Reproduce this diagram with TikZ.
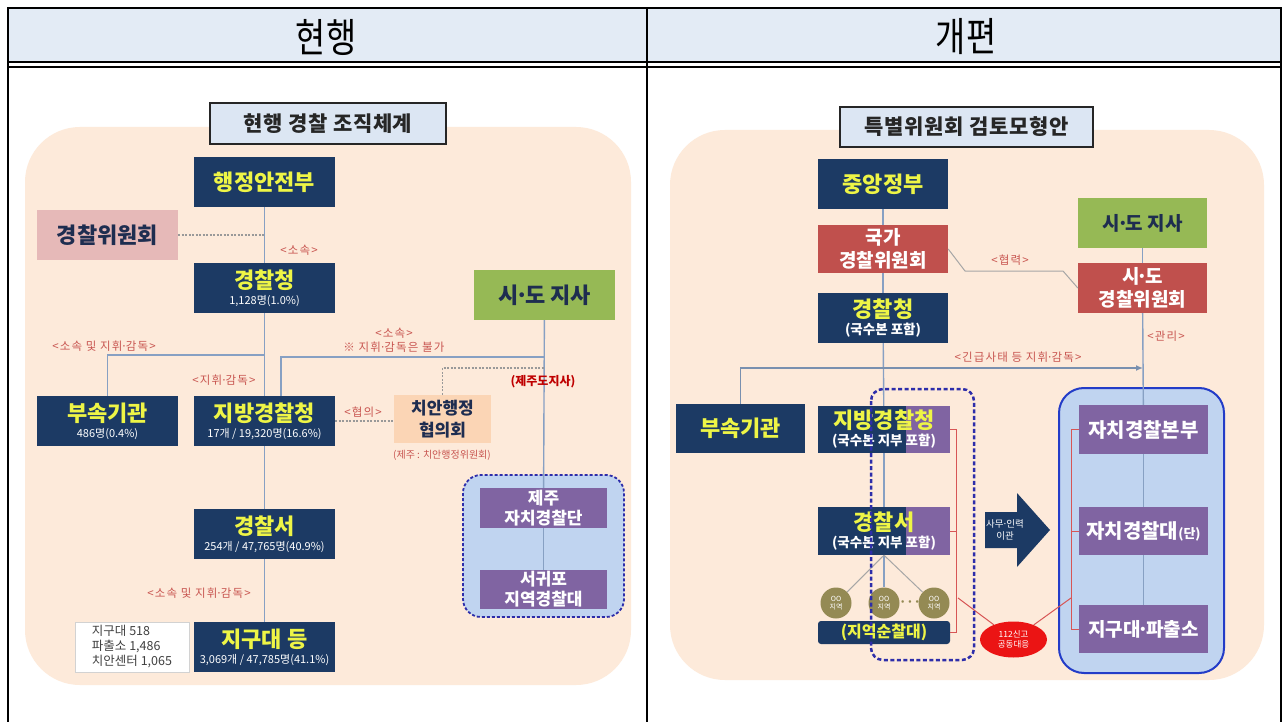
\documentclass[tikz,border=0pt]{standalone}
\usepackage{fontspec}
\setmainfont{Noto Sans CJK KR}
\usetikzlibrary{arrows.meta,shapes.geometric}
\definecolor{navy}{RGB}{28,58,100}
\definecolor{ylw}{RGB}{238,245,70}
\definecolor{pinkb}{RGB}{230,185,184}
\definecolor{greenb}{RGB}{150,185,85}
\definecolor{purp}{RGB}{128,100,162}
\definecolor{redb}{RGB}{192,80,77}
\definecolor{peach}{RGB}{253,234,218}
\definecolor{lblue}{RGB}{192,212,240}
\definecolor{dblue}{RGB}{45,45,170}
\definecolor{sblue}{RGB}{35,60,200}
\definecolor{conncol}{RGB}{135,160,195}
\definecolor{lblred}{RGB}{200,85,80}
\definecolor{hdr}{RGB}{227,235,245}
\definecolor{ttlfill}{RGB}{220,230,243}
\definecolor{chianf}{RGB}{251,213,181}
\definecolor{olive}{RGB}{148,138,84}
\definecolor{txtdark}{RGB}{30,45,80}
\definecolor{redline}{RGB}{215,85,85}
\definecolor{ellred}{RGB}{235,20,20}
\newcommand\kbig[1]{{\fontsize{22}{26}\selectfont\bfseries #1}}
\newcommand\kmid[1]{{\fontsize{19}{23}\selectfont\bfseries #1}}
\newcommand\knum[1]{{\fontsize{11}{13}\selectfont\color{white}#1}}
\newcommand\mdot{\hbox to 0.3em{\hss·\hss}}
\tikzset{
  boxbase/.style={inner sep=0pt, align=center, font=\fontsize{12}{15}\selectfont},
  navybox/.style={boxbase, fill=navy, text=ylw},
  pinkbox/.style={boxbase, fill=pinkb, text=txtdark},
  greenbox/.style={boxbase, fill=greenb, text=txtdark},
  purpbox/.style={boxbase, fill=purp, text=white},
  redbox/.style={boxbase, fill=redb, text=white},
  conn/.style={draw=conncol, line width=1.4pt},
  dconn/.style={draw=gray!80, line width=1.1pt, dash pattern=on 2pt off 1.5pt},
  grayl/.style={draw=gray!70, line width=1pt},
  redl/.style={draw=redline, line width=1pt},
  lbl/.style={text=lblred, font=\fontsize{11.5}{14}\selectfont\addfontfeature{LetterSpace=10}, inner sep=1pt, align=center},
  ttl/.style={draw=gray!30!black, line width=1.5pt, fill=ttlfill, inner sep=0pt, font=\fontsize{21}{24}\selectfont\bfseries\addfontfeature{LetterSpace=3}, text=black!85},
}
\begin{document}
\begin{tikzpicture}[x=1pt,y=-1pt]
\useasboundingbox (0,0) rectangle (1288,722);
\fill[white] (0,0) rectangle (1288,722);
% header table
\fill[hdr] (8,8) rectangle (1281,62);
\draw[line width=2pt] (8,62) -- (1281,62);
\draw[line width=2pt] (8,67) -- (1281,67);
\draw[line width=1.5pt] (647,8) -- (647,740);
\draw[line width=2.5pt] (8,8) rectangle (1281,740);
\node (h1) at (326,37) {\scalebox{0.82}[1]{\fontsize{40}{42}\selectfont 현행}};
\node (h2) at (966,37) {\scalebox{0.82}[1]{\fontsize{40}{42}\selectfont 개편}};

% ================= LEFT PANEL =================
\fill[peach, rounded corners=55pt] (25,127) rectangle (631,685);
\node[ttl, minimum width=236pt, minimum height=41pt] (t1) at (328,123.5) {현행 경찰 조직체계};

% jeju region
\draw[dblue, fill=lblue, line width=1.8pt, dash pattern=on 3pt off 2pt, rounded corners=18pt] (463,475) rectangle (624,617);

% boxes
\node[navybox, minimum width=141pt, minimum height=50pt] (hang) at (264.5,182) {\kbig{행정안전부}};
\node[pinkbox, minimum width=141pt, minimum height=50pt] (gwi) at (107.5,235) {\kbig{경찰위원회}};
\node[navybox, minimum width=141pt, minimum height=50pt] (cheong) at (264.5,288) {\kbig{경찰청}\\[1pt]\knum{1,128명(1.0\%)}};
\node[greenbox, minimum width=141pt, minimum height=50pt] (sido) at (544.5,295) {\kbig{시\mdot 도 지사}};
\node[navybox, minimum width=141pt, minimum height=50pt] (busok) at (107.5,421) {\kbig{부속기관}\\[1pt]\knum{486명(0.4\%)}};
\node[navybox, minimum width=141pt, minimum height=50pt] (jibang) at (264.5,421) {\kbig{지방경찰청}\\[1pt]\knum{17개 / 19,320명(16.6\%)}};
\node[boxbase, fill=chianf, text=txtdark, minimum width=97pt, minimum height=48pt, font=\fontsize{17}{22}\selectfont\bfseries] (chian) at (442.5,419) {치안행정\\협의회};
\node[purpbox, minimum width=127pt, minimum height=40pt, font=\fontsize{17}{20}\selectfont\bfseries] (jeju) at (543.5,508) {제주\\자치경찰단};
\node[purpbox, minimum width=127pt, minimum height=39pt, font=\fontsize{17}{20}\selectfont\bfseries] (sgp) at (543.5,589.5) {서귀포\\지역경찰대};
\node[navybox, minimum width=141pt, minimum height=50pt] (seo) at (264.5,534) {\kbig{경찰서}\\[1pt]\knum{254개 / 47,765명(40.9\%)}};
\node[navybox, minimum width=141pt, minimum height=50pt] (jigu) at (264.5,647) {\kbig{지구대 등}\\[1pt]\knum{3,069개 / 47,785명(41.1\%)}};
\node[draw=gray!35, fill=white, line width=1pt, minimum width=114pt, minimum height=50pt, inner sep=0pt, align=left, text=black!75, font=\fontsize{12.5}{15}\selectfont] (info) at (132,647) {지구대 518\\파출소 1,486\\치안센터 1,065};

% connectors left
\coordinate (j1) at (264.5,355);
\coordinate (j2) at (543.5,357);
\coordinate (j3) at (543.5,368);
\draw[conn] (hang) -- (cheong);
\draw[conn] (cheong) -- (jibang);
\draw[conn] (jibang) -- (seo);
\draw[conn] (seo) -- (jigu);
\draw[conn] (busok.north) |- (j1);
\draw[conn] (sido) -- (jeju);
\draw[conn] (jeju) -- (sgp);
\draw[conn] (j2) -| ([xshift=16.5pt]jibang.north);
\draw[dconn] (gwi.east) -- (gwi.east -| hang.south);
\draw[dconn] (chian.north) |- (j3);
\draw[dconn] (jibang.east) -- (jibang.east -| chian.west);

% labels left
\node[lbl] (l1) at (299,250) {<소속>};
\node[lbl] (l2) at (104,346) {<소속 및 지휘\mdot 감독>};
\node[lbl] (l3) at (394,340) {<소속>\\※ 지휘\mdot 감독은 불가};
\node[lbl] (l4) at (224,380) {<지휘\mdot 감독>};
\node[text=red!75!black, font=\fontsize{12}{14}\selectfont\bfseries] (l5) at (543,382) {(제주도지사)};
\node[lbl] (l6) at (363,412) {<협의>};
\node[lbl, font=\fontsize{10}{12}\selectfont] (l7) at (442,455) {(제주 : 치안행정위원회)};
\node[lbl] (l8) at (199,593) {<소속 및 지휘\mdot 감독>};

% ================= RIGHT PANEL =================
\fill[peach, rounded corners=55pt] (670,130) rectangle (1264,680);
\node[ttl, minimum width=253pt, minimum height=40pt] (t2) at (966.5,127) {특별위원회 검토모형안};

\draw[sblue, fill=lblue, line width=2pt, rounded corners=25pt] (1059,388) rectangle (1224,673);

\node[navybox, minimum width=130pt, minimum height=50pt] (jung) at (883,184) {\kbig{중앙정부}};
\node[redbox, minimum width=130pt, minimum height=48pt, font=\fontsize{19}{23}\selectfont\bfseries] (gukga) at (883,249) {국가\\경찰위원회};
\node[navybox, minimum width=130pt, minimum height=50pt] (cheong2) at (883,318) {\kbig{경찰청}\\[2pt]{\fontsize{13.5}{15}\selectfont\bfseries\color{white}(국수본 포함)}};
\node[greenbox, minimum width=129pt, minimum height=50pt] (sido2) at (1142.5,223) {\kmid{시\mdot 도 지사}};
\node[redbox, minimum width=129pt, minimum height=50pt, font=\fontsize{19}{23}\selectfont\bfseries] (sidowi) at (1142.5,288) {시\mdot 도\\경찰위원회};
\node[navybox, minimum width=129pt, minimum height=49pt] (busok2) at (740.5,428.5) {\kbig{부속기관}};
\node[navybox, minimum width=132pt, minimum height=47pt,
  path picture={\fill[purp] ([xshift=22pt]path picture bounding box.south) rectangle (path picture bounding box.north east);}]
  (jibang2) at (884,429.5) {\kbig{지방경찰청}\\[2pt]{\fontsize{13.5}{15}\selectfont\bfseries\color{white}(국수본 지부 포함)}};
\node[navybox, minimum width=132pt, minimum height=48pt,
  path picture={\fill[purp] ([xshift=22pt]path picture bounding box.south) rectangle (path picture bounding box.north east);}]
  (seo2) at (884,531) {\kbig{경찰서}\\[2pt]{\fontsize{13.5}{15}\selectfont\bfseries\color{white}(국수본 지부 포함)}};
\node[circle, fill=olive, minimum size=31pt, inner sep=0pt, text=white, align=center, font=\fontsize{7}{8}\selectfont] (c1) at (836,603) {OO\\지역};
\node[circle, fill=olive, minimum size=31pt, inner sep=0pt, text=white, align=center, font=\fontsize{7}{8}\selectfont] (c2) at (884,603) {OO\\지역};
\node[circle, fill=olive, minimum size=31pt, inner sep=0pt, text=white, align=center, font=\fontsize{7}{8}\selectfont] (c3) at (934,603) {OO\\지역};
\node[text=olive, font=\fontsize{12}{12}\selectfont\bfseries, inner sep=0pt] (dots) at (910,604) {···};
\node[navybox, rounded corners=3pt, minimum width=132pt, minimum height=23pt, font=\fontsize{16}{18}\selectfont\bfseries] (sunchal) at (884,632.5) {(지역순찰대)};

\node[purpbox, minimum width=129pt, minimum height=49pt, font=\fontsize{20}{24}\selectfont\bfseries] (ja1) at (1143.5,429.5) {자치경찰본부};
\node[purpbox, minimum width=129pt, minimum height=48pt, font=\fontsize{20}{24}\selectfont\bfseries] (ja2) at (1143.5,531) {자치경찰대{\fontsize{13}{15}\selectfont(단)}};
\node[purpbox, minimum width=129pt, minimum height=48pt, font=\fontsize{19}{22}\selectfont\bfseries] (ja3) at (1143.5,629) {지구대\mdot 파출소};

% big arrow
\fill[navy] (985,512) -- (1017,512) -- (1017,493) -- (1050,530) -- (1017,567) -- (1017,548) -- (985,548) -- cycle;
\node[text=white, align=center, font=\fontsize{9.5}{12}\selectfont, inner sep=0pt] (mv) at (1005,530) {사무\mdot 인력\\이관};

% ellipse
\node[ellipse, fill=ellred, minimum width=67pt, minimum height=36pt, inner sep=0pt, text=white, align=center, font=\fontsize{8.5}{10}\selectfont] (ell) at (1013.5,639.5) {112신고\\공동대응};

% connectors right
\coordinate (ar) at (1143,368);
\coordinate (k1) at (965,271);
\coordinate (k2) at (1063,271);
\coordinate (rb1) at (958,598);
\coordinate (rb2) at (1071,598);
\draw[conn] (jung) -- (gukga);
\draw[conn] (gukga) -- (cheong2);
\draw[conn] (cheong2) -- (jibang2);
\draw[conn] (jibang2) -- (seo2);
\draw[conn] (seo2) -- (c2);
\draw[grayl] (seo2.south) -- (c1);
\draw[grayl] (seo2.south) -- (c3);
\draw[conn] (sido2) -- (sidowi);
\draw[conn] (sidowi) -- (ja1);
\draw[conn] (ja1) -- (ja2);
\draw[conn] (ja2) -- (ja3);
\draw[conn, draw=conncol!90!black, -{Latex[length=7pt,width=6pt]}] (busok2.north) |- (ar);
\draw[grayl] (gukga.east) -- (k1) -- (k2) -- (sidowi.west);
\draw[redl] (jibang2.east) -| (956,632.5) -- (sunchal.east);
\draw[redl] (seo2.east) -- ++(6,0);
\draw[redl] (rb1) -- (ell);
\draw[redl] (ja1.west) -| (1071,629) -- (ja3.west);
\draw[redl] (ja2.west) -- ++(-8,0);
\draw[redl] (ell) -- (rb2);

% dashed overlay
\draw[dblue, line width=2.5pt, dash pattern=on 4pt off 2.5pt, rounded corners=12pt] (871,389) rectangle (974,660);

% labels right
\node[lbl] (r1) at (1010,260) {<협력>};
\node[lbl] (r2) at (1166,336) {<관리>};
\node[lbl] (r3) at (1018,357) {<긴급사태 등 지휘\mdot 감독>};
\end{tikzpicture}
\end{document}
